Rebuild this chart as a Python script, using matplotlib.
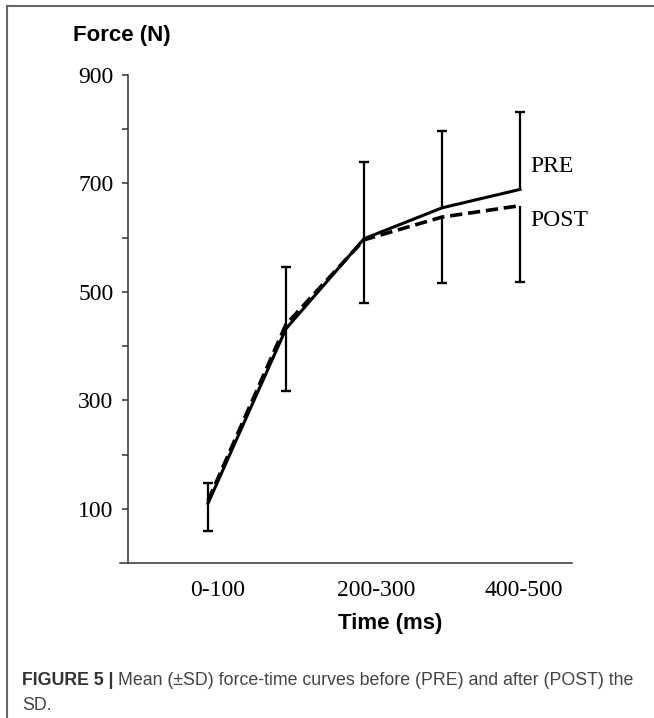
import matplotlib
matplotlib.use("Agg")
import matplotlib.pyplot as plt
from matplotlib.lines import Line2D

# data
windows = ["0-100", "100-200", "200-300", "300-400", "400-500"]
pre_mean = [110, 432, 598, 655, 689]
post_mean = [115, 440, 596, 638, 659]
pre_sd = [38, 114, 142, 141, 142]
post_sd = [56, 123, 117, 121, 140]
shown_labels = ["0-100", "200-300", "400-500"]

W, H = 654, 718
fig = plt.figure(figsize=(W / 100, H / 100), dpi=100)

# axes box in pixels
x0, x1, y0, y1 = 120, 572, 75, 563
ax = fig.add_axes([x0 / W, 1 - y1 / H, (x1 - x0) / W, (y1 - y0) / H])

xs = list(range(len(windows)))

ax.plot(xs, pre_mean, color="black", lw=2.2, solid_joinstyle="round")
ax.plot(xs, post_mean, color="black", lw=2.6, linestyle=(0, (3.4, 1.6)))

# error bars: PRE upwards, POST downwards
pre_top = [m + s for m, s in zip(pre_mean, pre_sd)]
post_bot = [m - s for m, s in zip(post_mean, post_sd)]
ax.vlines(xs, pre_mean, pre_top, color="black", lw=1.6)
ax.vlines(xs, post_bot, post_mean, color="black", lw=1.6)
ax.plot(xs, pre_top, ls="none", marker="_", ms=7, mew=1.7, color="black")
ax.plot(xs, post_bot, ls="none", marker="_", ms=7, mew=1.7, color="black")

ax.set_ylim(0, 900)
ax.set_xlim((x0 - 208) / 78, (x1 - 208) / 78)

for sp in ["top", "right"]:
    ax.spines[sp].set_visible(False)
ax.spines["left"].set_position(("axes", 8 / (x1 - x0)))
ax.spines["left"].set_bounds(0, 900)
for sp in ["left", "bottom"]:
    ax.spines[sp].set_color("#333333")
    ax.spines[sp].set_linewidth(1.1)

serif = "Liberation Serif"
ax.set_yticks([100, 300, 500, 700, 900])
ax.set_yticklabels(["100", "300", "500", "700", "900"], fontfamily=serif, fontsize=17)
ax.set_yticks([200, 400, 600, 800], minor=True)
ax.tick_params(axis="y", which="both", direction="out", length=4.5, width=1.1,
               color="#333333", pad=6)

ax.set_xticks([0.12, 2.15, 4.05])
ax.set_xticklabels(shown_labels, fontfamily=serif, fontsize=17)
ax.tick_params(axis="x", length=0, pad=12)

# series labels
ax.text(4.13, 732, "PRE", fontfamily=serif, fontsize=17, va="center", ha="left")
ax.text(4.13, 631, "POST", fontfamily=serif, fontsize=17, va="center", ha="left")

# axis titles
fig.text(122 / W, 1 - 35 / H, "Force (N)", fontfamily="Liberation Sans",
         fontweight="bold", fontsize=16, ha="center", va="center")
fig.text(390 / W, 1 - 623 / H, "Time (ms)", fontfamily="Liberation Sans",
         fontweight="bold", fontsize=16, ha="center", va="center")

# caption
cap = fig.text(22 / W, 1 - 685 / H, "FIGURE 5 | ", fontfamily="Liberation Sans",
               fontweight="bold", fontsize=12.8, color="#333333", va="baseline")
ax.annotate("Mean (\u00b1SD) force-time curves before (PRE) and after (POST) the",
            xy=(1, 0), xycoords=cap, va="bottom", ha="left",
            fontfamily="Liberation Sans", fontsize=12.8, color="#444444",
            annotation_clip=False)
fig.text(22 / W, 1 - 710 / H, "SD.", fontfamily="Liberation Sans",
         fontsize=12.8, color="#444444", va="baseline")

# frame around the panel
fig.add_artist(Line2D([7 / W, 7 / W], [0, 1 - 6 / H], color="#666666", lw=1.5))
fig.add_artist(Line2D([7 / W, 1], [1 - 6 / H, 1 - 6 / H], color="#666666", lw=1.5))

fig.savefig("out.png", dpi=100)
